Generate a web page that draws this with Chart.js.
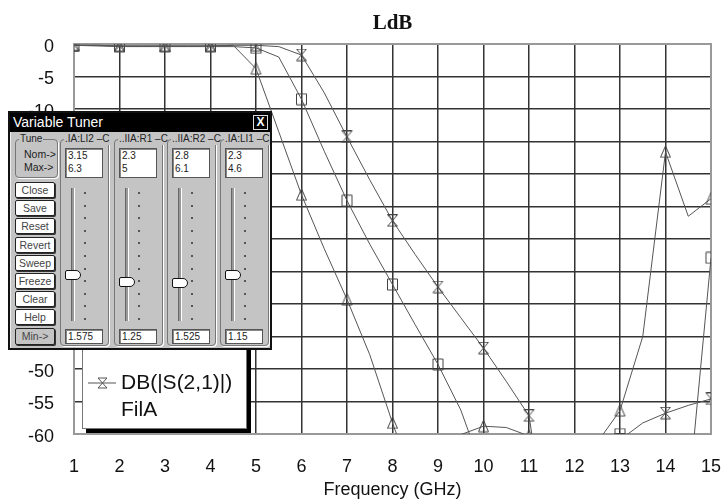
<!DOCTYPE html>
<html>
<head>
<meta charset="utf-8">
<script src="https://cdn.jsdelivr.net/npm/chart.js@4.4.1/dist/chart.umd.min.js"></script>
<style>
  body { margin: 0; background: #fff; width: 722px; height: 501px; position: relative; overflow: hidden;
         font-family: "Liberation Sans", Arial, sans-serif; }
  #chart { position: absolute; left: 0; top: 0; }

  /* legend box, partly under the tuner */
  .legend { position: absolute; left: 82px; top: 330px; width: 163px; height: 97px; background: #fff;
            border: 1px solid #777; box-shadow: 4px 4px 0 #000; z-index: 2; }
  .legend svg { position: absolute; left: 5px; top: 45px; }
  .legend .txt { position: absolute; left: 38px; font-size: 21px; line-height: 24px; color: #111; }

  /* variable tuner window */
  .tuner { position: absolute; left: 8px; top: 111px; width: 264px; height: 239px; background: #c4c4c4;
           border: 2px solid #111; box-sizing: border-box; z-index: 3; font-size: 10px; color: #222;
           box-shadow: inset 1px 1px 0 #eee; }
  .tbar { height: 19px; background: #000; color: #fff; font-size: 14px; line-height: 19px; padding-left: 3px; }
  .xbtn { position: absolute; right: 2px; top: 2px; width: 13px; height: 13px; border: 1px solid #ddd;
          color: #fff; font-size: 12px; line-height: 13px; text-align: center; font-weight: bold; }
  .grp { position: absolute; border: 1px solid #777; border-radius: 4px; box-shadow: 1px 1px 0 #fff; }
  .grp .hd { position: absolute; top: -7px; left: 3px; background: #c4c4c4; padding: 0 1px; white-space: nowrap;
             font-size: 10px; line-height: 12px; }
  .lbl { position: absolute; font-size: 10.5px; }
  .btn { position: absolute; left: 5px; width: 38px; height: 14px; background: #fff; border: 1px solid #222;
         border-radius: 2px; box-shadow: 1px 1px 0 #333; text-align: center; line-height: 14px; color: #444;
         font-size: 10.5px; }
  .box { position: absolute; background: #fff; border: 1px solid #555; box-shadow: inset 1px 1px 0 #888;
         padding-left: 2px; box-sizing: border-box; line-height: 13px; }
  .track { position: absolute; width: 2px; border-left: 1px solid #666; border-right: 1px solid #fff; background: #999; }
  .dot { position: absolute; width: 2px; height: 2px; background: #555; }
  .thumb { position: absolute; width: 14px; height: 8px; background: #fff; border: 1.5px solid #111;
           border-radius: 2px 5px 5px 2px; }
</style>
</head>
<body>
<canvas id="chart" width="722" height="501"></canvas>

<div class="legend">
  <svg width="30" height="16" viewBox="0 0 30 16">
    <line x1="0" y1="7" x2="28" y2="7" stroke="#555" stroke-width="1"/>
    <path d="M10 2 H19 L10 12 H19 Z" fill="none" stroke="#555" stroke-width="1"/>
  </svg>
  <div class="txt" style="top:39px">DB(|S(2,1)|)</div>
  <div class="txt" style="top:66px">FilA</div>
</div>

<div class="tuner" id="tuner">
  <div class="tbar">Variable Tuner</div>
  <div class="xbtn">X</div>
</div>

<script>
/* ================= DATA ================= */

const freq = [1, 1.5, 2, 2.5, 3, 3.5, 4, 4.5, 5, 5.5, 6, 6.5, 7, 7.5, 8, 8.5, 9, 9.5, 10, 10.5,
              11, 11.5, 12, 12.5, 13, 13.5, 14, 14.5, 15];

// triangle marker curve
const tri = [-0.2, -0.2, -0.3, -0.3, -0.3, -0.3, -0.3, -0.2, -3.8, -13.5, -23.2, -31.5, -39.3, -47.8, -58.3,
             -68, -72, -60.1, -58.8, -59.0, -60.3, -70, -75, -61.3, -56.4, -45, -16.6, -26.5, -23.8];

// square marker curve
const sq = [-0.2, -0.3, -0.4, -0.4, -0.4, -0.4, -0.4, -0.4, -0.6, -2.0, -8.5, -16.5, -24.1, -30.8, -37.0,
            -43.2, -49.3, -56.3, -66, -72, -76, -78, -76, -70, -60, -72, -78, -70, -32.9];

// hourglass marker curve  DB(|S(2,1)|) FilA
const hg = [-0.2, -0.2, -0.3, -0.3, -0.3, -0.3, -0.3, -0.2, -0.2, -0.4, -1.7, -7.5, -14.3, -20.9, -27.2,
            -32.4, -37.4, -42.1, -46.8, -51.9, -57.2, -80, -72, -68, -60.9, -58.3, -56.8, -55.6, -54.6];

const yTicks = [0, -5, -10, -15, -20, -25, -30, -35, -40, -45, -50, -55, -60];

/* tuner panel values */
const tunerNames = [".IA:LI2 \u2013C", "..IIA:R1 \u2013C", "..IIA:R2 \u2013C", ".IA:LI1 \u2013C"];
const tunerNom = ["3.15", "2.3", "2.8", "2.3"];
const tunerMax = ["6.3", "5", "6.1", "4.6"];
const tunerMin = ["1.575", "1.25", "1.525", "1.15"];
const thumbY = [273, 280, 281, 273];
const buttons = ["Close", "Save", "Reset", "Revert", "Sweep", "Freeze", "Clear", "Help"];

/* ================= MARKERS ================= */

function marker(kind) {
  const c = document.createElement("canvas");
  c.width = 13; c.height = 13;
  const g = c.getContext("2d");
  g.strokeStyle = "#444";
  g.lineWidth = 1;
  g.beginPath();
  if (kind === "tri") {
    g.moveTo(6.5, 0.5); g.lineTo(11.5, 12); g.lineTo(1.5, 12); g.closePath();
  } else if (kind === "sq") {
    g.rect(1.5, 1, 10, 11);
  } else {
    g.moveTo(1.5, 0.5); g.lineTo(11.5, 0.5); g.lineTo(1.5, 12); g.lineTo(11.5, 12); g.closePath();
  }
  g.stroke();
  return c;
}

const onInt = ctx => Number.isInteger(freq[ctx.dataIndex]) ? 5 : 0;

function series(vals, kind) {
  return {
    data: freq.map((f, i) => ({ x: f, y: vals[i] })),
    borderColor: "#555",
    borderWidth: 1,
    pointStyle: marker(kind),
    pointRadius: onInt,
    pointHoverRadius: 0,
    tension: 0
  };
}

/* ================= CHART ================= */

// grey frame round the plot, and the title centred on the plot
const frame = {
  id: "frame",
  beforeDatasetsDraw(chart) {
    const a = chart.chartArea, c = chart.ctx;
    c.save();
    c.strokeStyle = "#999";
    c.lineWidth = 2;
    c.strokeRect(a.left, a.top, a.right - a.left, a.bottom - a.top);
    c.restore();
  },
  afterDraw(chart) {
    const a = chart.chartArea, c = chart.ctx;
    c.save();
    c.fillStyle = "#111";
    c.font = "bold 21px 'Liberation Serif'";
    c.textAlign = "center";
    c.textBaseline = "middle";
    c.fillText("LdB", (a.left + a.right) / 2, 24);
    c.restore();
  }
};

new Chart(document.getElementById("chart"), {
  type: "line",
  data: { datasets: [series(tri, "tri"), series(sq, "sq"), series(hg, "hg")] },
  options: {
    responsive: false,
    animation: false,
    layout: { padding: { top: 44, right: 11, left: 0, bottom: 0 } },
    plugins: {
      legend: { display: false },
      tooltip: { enabled: false },
      title: { display: false }
    },
    scales: {
      x: {
        type: "linear",
        min: 1, max: 15,
        afterFit: s => { s.height = 67; s.paddingRight = 10; s.paddingLeft = 5; },
        ticks: { stepSize: 1, color: "#111", padding: 22, font: { family: "Liberation Sans", size: 18 } },
        grid: { color: "#333", lineWidth: 1.5, drawTicks: false },
        border: { color: "#999", width: 2 },
        title: { display: true, text: "Frequency (GHz)", color: "#111", padding: { bottom: 0 },
                 font: { family: "Liberation Sans", size: 18 } }
      },
      y: {
        min: -60, max: 0,
        afterFit: s => { s.width = 74; },
        afterBuildTicks: s => { s.ticks = yTicks.map(v => ({ value: v })); },
        ticks: { color: "#111", padding: 20, labelOffset: 3, font: { family: "Liberation Sans", size: 18 } },
        grid: { color: "#333", lineWidth: 1.5, drawTicks: false },
        border: { color: "#999", width: 2 }
      }
    }
  },
  plugins: [frame]
});

/* ================= TUNER PANEL ================= */

const tuner = document.getElementById("tuner");
function el(cls, x, y, w, h, html, parent) {
  const d = document.createElement("div");
  d.className = cls;
  d.style.left = x + "px"; d.style.top = y + "px";
  if (w) d.style.width = w + "px";
  if (h) d.style.height = h + "px";
  if (html) d.innerHTML = html;
  (parent || tuner).appendChild(d);
  return d;
}

// page coords -> inside tuner (left 8 + border 2, top 111 + border 2)
const ox = 10, oy = 113;

const tune = el("grp", 15 - ox, 139 - oy, 41, 37, '<span class="hd">Tune</span>');
el("lbl", 8, 8, 0, 0, "Nom-&gt;", tune);
el("lbl", 8, 21, 0, 0, "Max-&gt;", tune);

buttons.forEach((b, i) => {
  el("btn", 15 - ox, 182 - oy + i * 18.2, 38, 14, b);
});
const minBtn = el("btn", 15 - ox, 328 - oy, 38, 15, "Min-&gt;");
minBtn.style.background = "#c4c4c4";

const colX = [60, 114, 167, 220];
colX.forEach((cx, i) => {
  const g = el("grp", cx - ox, 139 - oy, 47, 205, '<span class="hd">' + tunerNames[i] + "</span>");
  el("box", 4, 8, 38, 30, tunerNom[i] + "<br>" + tunerMax[i], g);
  el("track", 10, 48, 0, 133, "", g);
  for (let k = 0; k < 11; k++) el("dot", 23, 52 + k * 12.6, 0, 0, "", g);
  el("thumb", 4, thumbY[i] - 139 - 4, 0, 0, "", g);
  el("box", 4, 189, 38, 15, tunerMin[i], g);
});
</script>
</body>
</html>
